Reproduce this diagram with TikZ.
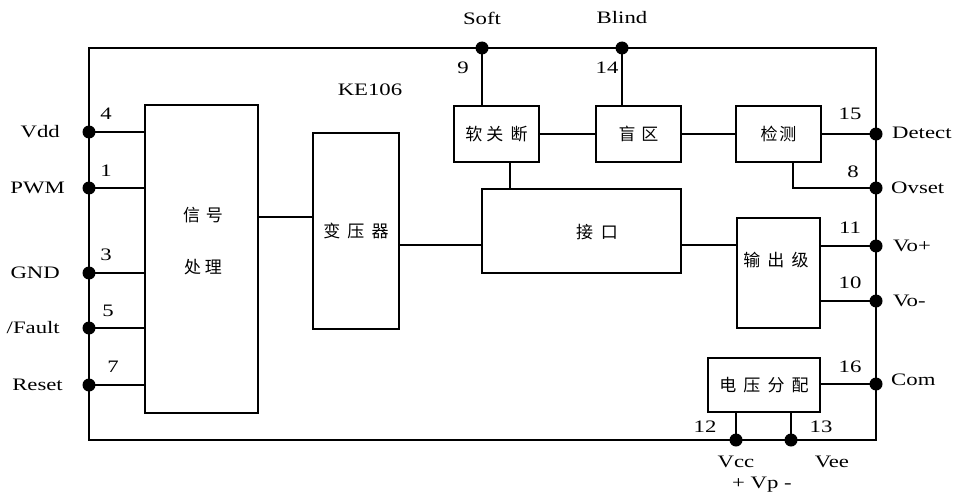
\documentclass[tikz,border=0pt]{standalone}
\usepackage{fontspec}
\setmainfont{Liberation Serif}[FakeStretch=1.3]
\newfontfamily\cjk{Noto Sans CJK SC}[LetterSpace=42]
\begin{document}
\begin{tikzpicture}[x=1pt,y=-1pt,
  wire/.style={line width=1.6pt},
  blk/.style={draw,line width=1.6pt,inner sep=0pt,font=\cjk\fontsize{17}{17}\selectfont},
  cjktxt/.style={inner sep=0pt,font=\cjk\fontsize{17}{17}\selectfont},
  pin/.style={circle,fill,inner sep=0pt,minimum size=13pt},
  lbl/.style={inner sep=0pt,font=\fontsize{17.5}{17.5}\selectfont},
  num/.style={inner sep=0pt,font=\fontsize{17.5}{17.5}\selectfont}]
\useasboundingbox (0,0) rectangle (953,495);
% chip outline
\node[draw,line width=1.6pt,inner sep=0pt,minimum width=787pt,minimum height=392pt] (chip) at (482.5,244) {};
% blocks
\node[blk,minimum width=113pt,minimum height=308pt] (sig) at (201.5,259) {};
\node[cjktxt] (sigA) at (203,215) {信\hspace{6pt}号};
\node[cjktxt] (sigB) at (203,267) {处\hspace{4pt}理};
\node[blk,minimum width=86pt,minimum height=196pt] (tr) at (356,231) {变压器};
\node[blk,minimum width=199pt,minimum height=84pt] (jk) at (581.5,231) {};
\node[cjktxt] (jkt) at (597,232) {接\hspace{8pt}口};
\node[blk,minimum width=85pt,minimum height=56pt] (sg) at (496.5,134) {软\hspace{4pt}关断};
\node[blk,minimum width=85pt,minimum height=56pt] (bl) at (638.5,134) {盲\hspace{6pt}区};
\node[blk,minimum width=85pt,minimum height=56pt] (det) at (778.5,134) {检\hspace{2pt}测};
\node[blk,minimum width=83pt,minimum height=110pt] (out) at (778.5,273) {};
\node[cjktxt] (outt) at (776,260) {输出级};
\node[blk,minimum width=112pt,minimum height=54pt] (dv) at (764,385) {电压分配};
% pins
\node[pin] (pVdd) at (89,132) {};
\node[pin] (pPWM) at (89,188) {};
\node[pin] (pGND) at (89,273) {};
\node[pin] (pFault) at (89,328) {};
\node[pin] (pReset) at (89,385) {};
\node[pin] (pSoft) at (482,48) {};
\node[pin] (pBlind) at (622,48) {};
\node[pin] (pDetect) at (876,134) {};
\node[pin] (pOvset) at (876,188) {};
\node[pin] (pVop) at (876,246) {};
\node[pin] (pVom) at (876,301) {};
\node[pin] (pCom) at (876,384) {};
\node[pin] (pVcc) at (736,440) {};
\node[pin] (pVee) at (791,440) {};
% wires
\foreach \p in {pVdd,pPWM,pGND,pFault,pReset}
  \draw[wire] (\p.center) -- (\p -| sig.west);
\draw[wire] (sig.east |- 0,217) -- (tr.west |- 0,217);
\draw[wire] (tr.east |- 0,245) -- (jk.west |- 0,245);
\draw[wire] (jk.east |- 0,245) -- (out.west |- 0,245);
\draw[wire] (pSoft.center) -- (pSoft |- sg.north);
\draw[wire] (sg.south -| 510,0) -- (jk.north -| 510,0);
\draw[wire] (pBlind.center) -- (pBlind |- bl.north);
\draw[wire] (sg.east) -- (bl.west);
\draw[wire] (bl.east) -- (det.west);
\draw[wire] (det.east) -- (pDetect.center);
\draw[wire] (det.south -| 793,0) |- (pOvset.center);
\draw[wire] (pVop -| out.east) -- (pVop.center);
\draw[wire] (pVom -| out.east) -- (pVom.center);
\draw[wire] (pCom -| dv.east) -- (pCom.center);
\draw[wire] (pVcc.center) -- (pVcc |- dv.south);
\draw[wire] (pVee.center) -- (pVee |- dv.south);
% pin numbers
\node[num] (n4) at (106,114) {4};
\node[num] (n1) at (106,171) {1};
\node[num] (n3) at (106,255) {3};
\node[num] (n5) at (108,311) {5};
\node[num] (n7) at (113,367) {7};
\node[num] (n9) at (463,68) {9};
\node[num] (n14) at (607,68) {14};
\node[num] (n15) at (850,114) {15};
\node[num] (n8) at (853,172) {8};
\node[num] (n11) at (850,228) {11};
\node[num] (n10) at (850,283) {10};
\node[num] (n16) at (850,367) {16};
\node[num] (n12) at (705,427) {12};
\node[num] (n13) at (821,427) {13};
% pin names
\node[lbl,anchor=east] (tVdd) at (60,132) {Vdd};
\node[lbl,anchor=east] (tPWM) at (65,188) {PWM};
\node[lbl,anchor=east] (tGND) at (60,273) {GND};
\node[lbl,anchor=east] (tFault) at (60,328) {/Fault};
\node[lbl,anchor=east] (tReset) at (63,385) {Reset};
\node[lbl] (tSoft) at (482,18) {Soft};
\node[lbl] (tBlind) at (622,18) {Blind};
\node[lbl,anchor=west] (tDetect) at (892,133) {Detect};
\node[lbl,anchor=west] (tOvset) at (891,188) {Ovset};
\node[lbl,anchor=west] (tVop) at (893,246) {Vo+};
\node[lbl,anchor=west] (tVom) at (893,301) {Vo-};
\node[lbl,anchor=west] (tCom) at (891,380) {Com};
\node[lbl] (tVcc) at (736,462) {Vcc};
\node[lbl] (tVee) at (832,462) {Vee};
\node[lbl] (tVp) at (762,485) {+ Vp -};
\node[lbl] (tKE) at (370,90) {KE106};
\end{tikzpicture}
\end{document}
